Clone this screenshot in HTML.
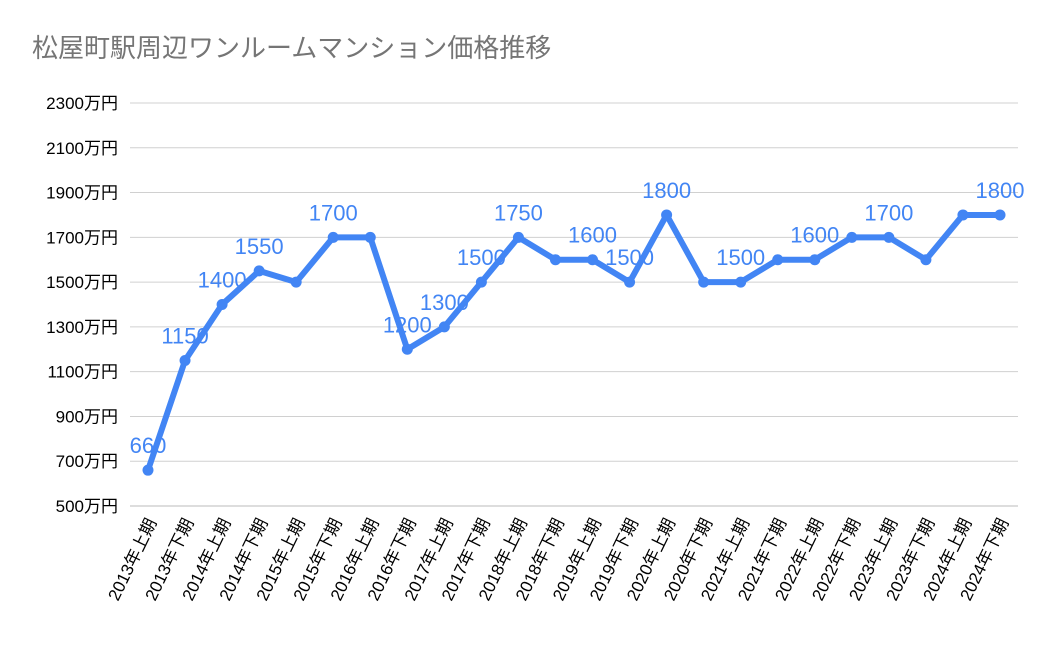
<!DOCTYPE html>
<html><head><meta charset="utf-8"><style>
body{margin:0;background:#fff}
svg{font-family:"Liberation Sans","Noto Sans CJK JP",sans-serif}
</style></head><body>
<svg id="c" width="1050" height="649">
<text x="32" y="57" font-size="26" fill="#757575">松屋町駅周辺ワンルームマンション価格推移</text>
<g id="grid"></g><g id="xl"></g><g id="line"></g><g id="lbl"></g>
</svg>
<script>
const categories=["2013年上期","2013年下期","2014年上期","2014年下期","2015年上期","2015年下期","2016年上期","2016年下期","2017年上期","2017年下期","2018年上期","2018年下期","2019年上期","2019年下期","2020年上期","2020年下期","2021年上期","2021年下期","2022年上期","2022年下期","2023年上期","2023年下期","2024年上期","2024年下期"];
const values=[660,1150,1400,1550,1500,1700,1700,1200,1300,1500,1700,1600,1600,1500,1800,1500,1500,1600,1600,1700,1700,1600,1800,1800];
const labelText=["660","1150","1400","1550",null,"1700",null,"1200","1300","1500","1750",null,"1600","1500","1800",null,"1500",null,"1600",null,"1700",null,null,"1800"];
const yTicks=[500,700,900,1100,1300,1500,1700,1900,2100,2300];
const NS="http://www.w3.org/2000/svg";
const y0=506,y1=103,vMin=500,vMax=2300,xL=130,xR=1018,x0=148,x1=1000;
const Y=v=>y0-(v-vMin)/(vMax-vMin)*(y0-y1);
const X=i=>x0+i*(x1-x0)/(categories.length-1);
function mk(t,a,p){const e=document.createElementNS(NS,t);for(const k in a)e.setAttribute(k,a[k]);p.appendChild(e);return e;}
const g=document.getElementById('grid');
yTicks.forEach(v=>{
 const l=mk('line',{x1:xL,x2:xR,y1:Y(v),y2:Y(v),stroke:v==500?'#bbb':'#d0d0d0','stroke-width':1},g);
 
 
 const t=mk('text',{x:118,y:Y(v)+6,'text-anchor':'end','font-size':17,fill:'#000'},g);
 t.textContent=v+'万円';
 
 
});
const xl=document.getElementById('xl');
categories.forEach((c,i)=>{
 const t=mk('text',{transform:`translate(${X(i)+9},522) rotate(-64)`,'text-anchor':'end','font-size':17,fill:'#000'},xl);
 t.textContent=c;
 
 
});
const ln=document.getElementById('line');
const p=mk('polyline',{points:values.map((v,i)=>X(i)+','+Y(v)).join(' '),fill:'none',stroke:'#4285f4','stroke-width':6,'stroke-linejoin':'round'},ln);


values.forEach((v,i)=>{
 const c=mk('circle',{cx:X(i),cy:Y(v),r:5.5,fill:'#4285f4'},ln);
 
 
});
const lb=document.getElementById('lbl');
labelText.forEach((s,i)=>{
 if(!s)return;
 const t=mk('text',{x:X(i),y:Y(values[i])-17,'text-anchor':'middle','font-size':22,fill:'#4285f4'},lb);
 t.textContent=s;
 
 
});
</script>
</body></html>
